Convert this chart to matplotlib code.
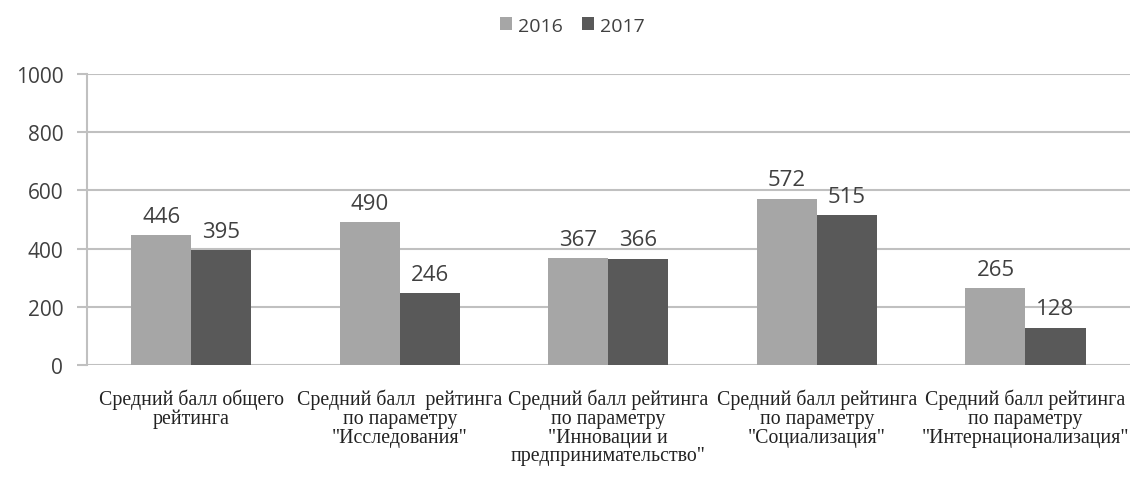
import numpy as np
import matplotlib
matplotlib.use("Agg")
import matplotlib.pyplot as plt

categories = [
    "Средний балл общего\nрейтинга",
    "Средний балл  рейтинга\nпо параметру\n\"Исследования\"",
    "Средний балл рейтинга\nпо параметру\n\"Инновации и\nпредпринимательство\"",
    "Средний балл рейтинга\nпо параметру\n\"Социализация\"",
    "Средний балл рейтинга\nпо параметру\n\"Интернационализация\"",
]
vals_2016 = [446, 490, 367, 572, 265]
vals_2017 = [395, 246, 366, 515, 128]
years = ["2016", "2017"]

c16 = "#a6a6a6"
c17 = "#595959"

plt.rcParams['font.family'] = ['Open Sans', 'DejaVu Sans']

fig = plt.figure(figsize=(11.31, 4.81), dpi=100)
ax = fig.add_axes([0.0769, 0.239, 0.922, 0.605])

x = np.arange(len(categories))
w = 0.288
b1 = ax.bar(x - w/2, vals_2016, w, color=c16, label=years[0], zorder=3)
b2 = ax.bar(x + w/2, vals_2017, w, color=c17, label=years[1], zorder=3)

# value labels above bars
for bars, vals in [(b1, vals_2016), (b2, vals_2017)]:
    for r, v in zip(bars, vals):
        ax.annotate(str(v), (r.get_x() + r.get_width()/2, v), xytext=(0, 6),
                    textcoords="offset points", ha="center", va="bottom",
                    fontsize=16, color="#404040")

ax.set_xlim(-0.5, len(categories) - 0.5)
ax.set_ylim(0, 1000)
ax.set_yticks(np.arange(0, 1001, 200))
ax.yaxis.grid(True, color="#c0c0c0", linewidth=1.5, zorder=0)
ax.tick_params(axis="y", length=7, width=1.5, color="#c0c0c0", labelsize=15,
               labelcolor="#404040", pad=10)
ax.tick_params(axis="x", length=0, pad=17)
ax.set_xticks(x)
ax.set_xticklabels(categories, family=['Liberation Serif'], fontsize=14.3,
                   color="#222222", linespacing=0.98)
for s in ["top", "right", "bottom"]:
    ax.spines[s].set_visible(False)
ax.spines["left"].set_color("#c0c0c0")
ax.spines["left"].set_linewidth(1.5)

fig.legend(loc="upper center", bbox_to_anchor=(0.506, 1.0), ncol=2, frameon=False,
           fontsize=14, handlelength=0.6, handleheight=0.6, handletextpad=0.3,
           columnspacing=1.0, labelcolor="#404040")

fig.savefig("out.png", dpi=100)
